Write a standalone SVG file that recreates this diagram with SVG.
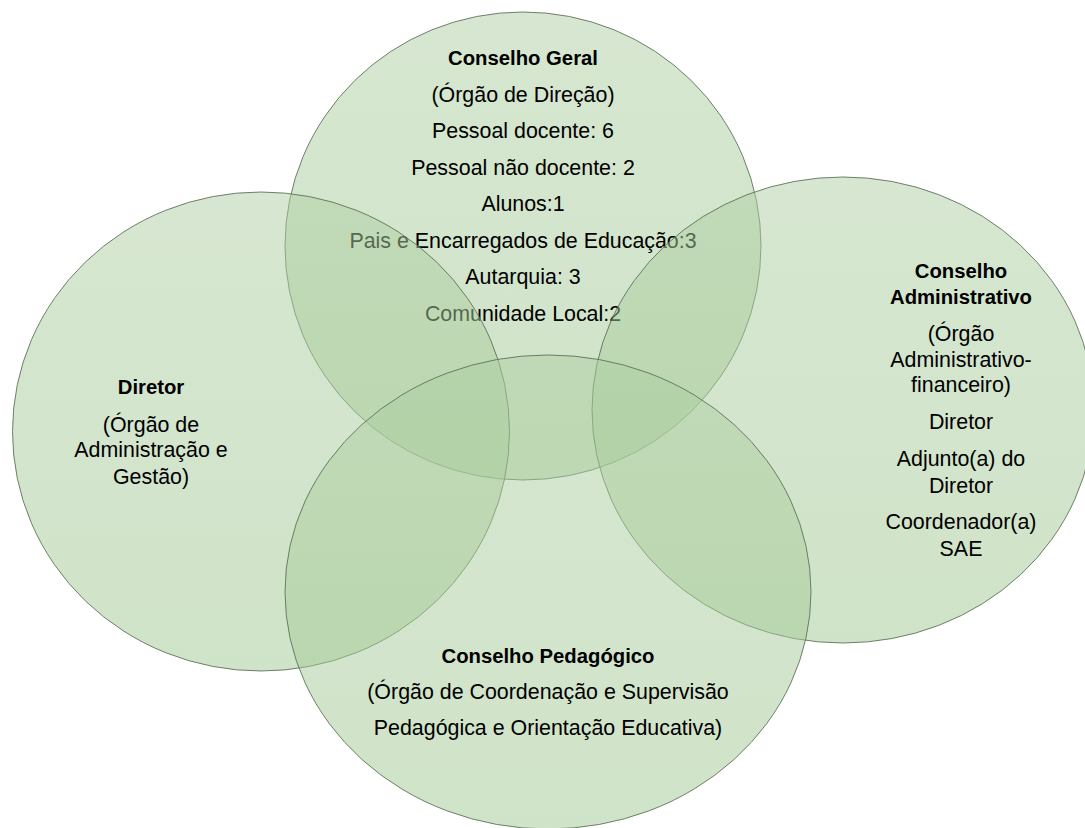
<svg xmlns="http://www.w3.org/2000/svg" width="1085" height="828" viewBox="0 0 1085 828">
  <style>
    .c { fill: url(#g); stroke: rgb(88,108,82); stroke-opacity: 0.85; stroke-width: 1; }
    .t { font-family: "Liberation Sans", Arial, sans-serif; font-size: 21.4px; fill: #000; text-anchor: middle; }
    .b { font-weight: bold; font-size: 20.3px; }
  </style>
  <defs>
    <linearGradient id="g" x1="0" y1="0" x2="0" y2="1">
      <stop offset="0" stop-color="rgb(174,206,162)" stop-opacity="0.5"/>
      <stop offset="1" stop-color="rgb(160,200,146)" stop-opacity="0.5"/>
    </linearGradient>
  </defs>
  <rect width="1085" height="828" fill="#fff"/>
  <g id="node-conselho-geral">
    <ellipse class="c" cx="523" cy="246" rx="238" ry="234"/>
    <text class="t b" x="523" y="65">Conselho Geral</text>
    <text class="t" x="523" y="101.5">(Órgão de Direção)</text>
    <text class="t" x="523" y="138">Pessoal docente: 6</text>
    <text class="t" x="523" y="174.5">Pessoal não docente: 2</text>
    <text class="t" x="523" y="211">Alunos:1</text>
    <text class="t" x="523" y="247.5">Pais e Encarregados de Educação:3</text>
    <text class="t" x="523" y="284">Autarquia: 3</text>
    <text class="t" x="523" y="320.5">Comunidade Local:2</text>
  </g>
  <g id="node-diretor">
    <ellipse class="c" cx="261" cy="431.5" rx="248.5" ry="239.5"/>
    <text class="t b" x="151" y="394">Diretor</text>
    <text class="t" x="151" y="431.5">(Órgão de</text>
    <text class="t" x="151" y="457">Administração e</text>
    <text class="t" x="151" y="483.5">Gestão)</text>
  </g>
  <g id="node-conselho-administrativo">
    <ellipse class="c" cx="843" cy="410" rx="251" ry="233"/>
    <text class="t b" x="961" y="277.5">Conselho</text>
    <text class="t b" x="961" y="303.5">Administrativo</text>
    <text class="t" x="961" y="340.5">(Órgão</text>
    <text class="t" x="961" y="366.5">Administrativo-</text>
    <text class="t" x="961" y="392">financeiro)</text>
    <text class="t" x="961" y="429">Diretor</text>
    <text class="t" x="961" y="466">Adjunto(a) do</text>
    <text class="t" x="961" y="492.5">Diretor</text>
    <text class="t" x="961" y="529">Coordenador(a)</text>
    <text class="t" x="961" y="555.5">SAE</text>
  </g>
  <g id="node-conselho-pedagogico">
    <ellipse class="c" cx="548" cy="592" rx="263" ry="237"/>
    <text class="t b" x="548" y="663">Conselho Pedagógico</text>
    <text class="t" x="548" y="699">(Órgão de Coordenação e Supervisão</text>
    <text class="t" x="548" y="735">Pedagógica e Orientação Educativa)</text>
  </g>
  <g id="connectors"/>
</svg>
